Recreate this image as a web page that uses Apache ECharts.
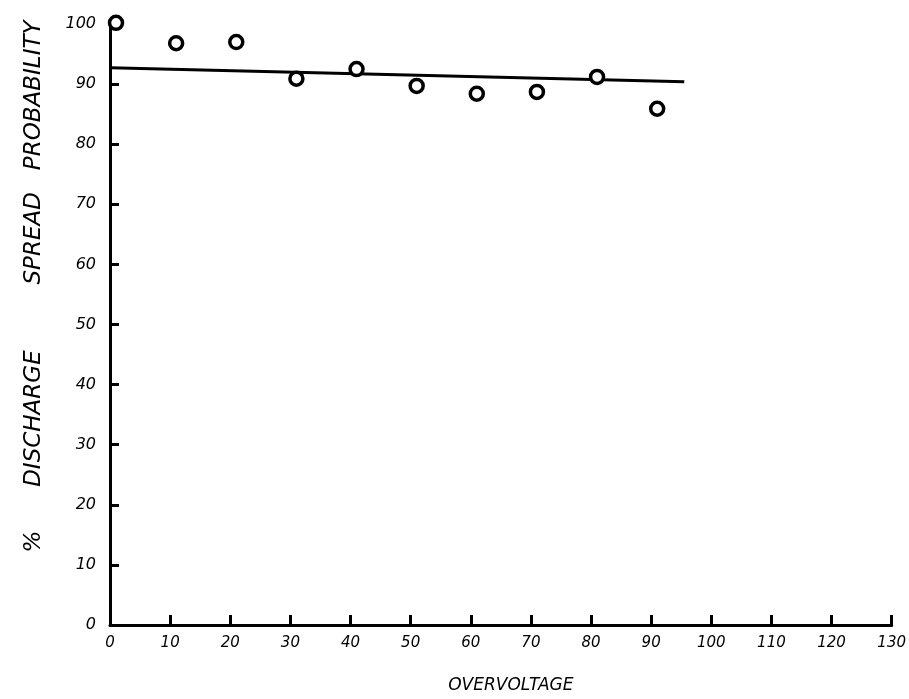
<!DOCTYPE html>
<html>
<head>
<meta charset="utf-8">
<script src="https://cdn.jsdelivr.net/npm/echarts@6/dist/echarts.min.js"></script>
<style>
html, body { margin: 0; padding: 0; background: #fff; }
#chart { width: 909px; height: 699px; }
</style>
</head>
<body>
<div id="chart"></div>
<script>
// overvoltage (x) and % discharge spread probability (y)
const overvoltage = [1, 11, 21, 31, 41, 51, 61, 71, 81, 91]
const spreadProb = [100.2, 96.8, 97.0, 90.9, 92.5, 89.7, 88.4, 88.7, 91.2, 85.9]
// hand fitted line, start and end
const fitX = [0, 95.5]
const fitY = [92.7, 90.4]

const font = '"DejaVu Sans", sans-serif'
let chart = echarts.init(document.getElementById('chart'))
let option = {
  animation: false,
  backgroundColor: '#fff',
  grid: { left: 110, right: 17, top: 24, bottom: 73 },
  xAxis: {
    type: 'value',
    min: 0,
    max: 130,
    interval: 10,
    name: 'OVERVOLTAGE',
    nameLocation: 'middle',
    nameGap: 52,
    nameTextStyle: { fontFamily: font, fontStyle: 'italic', fontSize: 17, color: '#000', padding: [0, 0, 0, 20] },
    axisLine: { lineStyle: { color: '#000', width: 3 } },
    axisTick: { inside: true, length: 10, lineStyle: { color: '#000', width: 3 } },
    axisLabel: { fontFamily: font, fontStyle: 'italic', fontSize: 15, color: '#000', margin: 11 },
    splitLine: { show: false }
  },
  yAxis: {
    type: 'value',
    min: 0,
    max: 100,
    interval: 10,
    name: '%      DISCHARGE         SPREAD   PROBABILITY',
    nameLocation: 'middle',
    nameGap: 64,
    nameTextStyle: { fontFamily: font, fontStyle: 'italic', fontSize: 23, color: '#000', padding: [0, 0, 0, 76] },
    axisLine: { show: true, lineStyle: { color: '#000', width: 3 } },
    axisTick: { show: true, inside: true, length: 9, lineStyle: { color: '#000', width: 3 } },
    axisLabel: { fontFamily: font, fontStyle: 'italic', fontSize: 16, color: '#000', margin: 14 },
    splitLine: { show: false }
  },
  series: [
    {
      type: 'line',
      data: fitX.map((x, i) => [x, fitY[i]]),
      symbol: 'none',
      lineStyle: { color: '#000', width: 3 }
    },
    {
      type: 'scatter',
      data: overvoltage.map((x, i) => [x, spreadProb[i]]),
      symbol: 'circle',
      symbolSize: 13,
      clip: false,
      itemStyle: { color: '#fff', borderColor: '#000', borderWidth: 3.5, opacity: 1 },
      z: 5
    }
  ]
}
chart.setOption(option)
</script>
</body>
</html>
